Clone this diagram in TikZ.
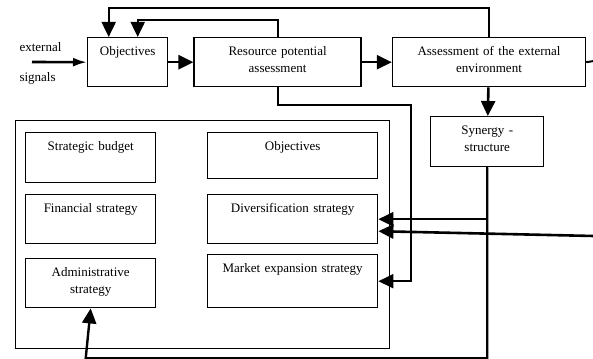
\documentclass[tikz,border=0pt]{standalone}
\usepackage{fontspec}
\setmainfont{Liberation Serif}
\usetikzlibrary{arrows.meta, positioning}
\tikzset{
  box/.style     = {draw, line width=1.4pt, align=center, inner xsep=2pt,
                    inner ysep=4pt, text height=14pt},
  frame/.style   = {draw, line width=1.4pt, inner sep=0pt},
  arrow/.style   = {-{Triangle[length=15pt, width=14pt]}, line width=2.6pt},
  inarrow/.style = {-{Latex[length=14pt, width=9pt]}, line width=2.6pt},
  wire/.style    = {line width=2pt},
  fback/.style   = {-{Triangle[length=15pt, width=14pt]}, line width=2pt},
}
\begin{document}
\begin{tikzpicture}[x=1pt, y=-1pt, every node/.style={font=\fontsize{13}{17}\selectfont}]
  \useasboundingbox (0,0) rectangle (593,358);
  % top row
  \node[box, anchor=north west, text width=76pt, text depth=27pt] (obj) at (87,37) {Objectives};
  \node[box, text width=163pt, text depth=27pt, right=25pt of obj] (res) {Resource potential\\assessment};
  \node[box, text width=189pt, text depth=27pt, right=30pt of res] (ass) {Assessment of the external\\environment};
  \node[box, anchor=north west, text width=109pt, text depth=28pt] (syn) at (430,116) {Synergy -\\structure};
  \coordinate (in) at (32,62);
  \coordinate (edge) at (594,61);
  \coordinate (back) at (594,236);
  \coordinate (bend) at (411,105);
  \node[anchor=base west] (ext) at (16,52) {external};
  \node[anchor=base west] (sig) at (16,82) {signals};
  % strategy block
  \node[frame, anchor=north west, minimum width=374pt, minimum height=228pt] (plan) at (15,120) {};
  \node[box, anchor=north west, text width=126pt, text depth=28pt] (budget) at (25,132) {Strategic budget};
  \node[box, anchor=north west, text width=166pt, text depth=24pt] (goals) at (207,132) {Objectives};
  \node[box, anchor=north west, text width=126pt, text depth=27pt] (fin) at (25,194) {Financial strategy};
  \node[box, anchor=north west, text width=166pt, text depth=27pt] (div) at (207,194) {Diversification strategy};
  \node[box, anchor=north west, text width=126pt, text depth=27pt] (adm) at (25,258) {Administrative\\strategy};
  \node[box, anchor=north west, text width=166pt, text depth=31pt] (mkt) at (207,254) {Market expansion strategy};
  % connectors
  \draw[inarrow] (in) -- (obj.west);
  \draw[arrow] (obj) -- (res);
  \draw[arrow] (res) -- (ass);
  \draw[wire] (ass.east) -- (edge);
  \draw[fback] (ass.north) -- ++(0,-29) -| ([xshift=-19pt]obj.north);
  \draw[fback] (res.north) -- ++(0,-17) -| ([xshift=10pt]obj.north);
  \draw[arrow] (ass) -- (syn);
  \draw[fback] (res.south) |- (bend) |- (mkt.east);
  \draw[fback, line width=2.4pt] (syn.south) |- (div.east);
  \draw[fback, line width=2.4pt] (syn.south) |- ([xshift=-5pt, yshift=-50pt]adm.south) -- (adm.south);
  \draw[fback, line width=2.6pt] (back) -- ([yshift=-12pt]div.east);
\end{tikzpicture}
\end{document}
